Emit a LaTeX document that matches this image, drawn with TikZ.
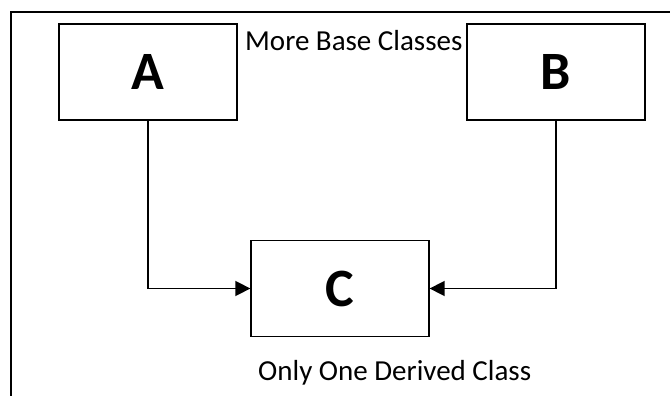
\documentclass[tikz,border=0pt]{standalone}
\usepackage{fontspec}
\setmainfont{Carlito}
\usetikzlibrary{arrows.meta}
\begin{document}
\begin{tikzpicture}[x=1pt,y=-1pt,
  classbox/.style={draw,line width=1.3pt,minimum width=178pt,minimum height=96pt,inner sep=0pt,font=\fontsize{54}{54}\selectfont\bfseries},
  lbl/.style={font=\fontsize{29}{29}\selectfont,inner sep=0pt,anchor=base west},
  conn/.style={line width=1.6pt,-{Triangle[length=15pt,width=15pt]}}]
\useasboundingbox (0,0) rectangle (670,396);
\draw[line width=2pt] (11,400) -- (11,12) -- (672,12);
\node[classbox] (A) at (148,72) {A};
\node[classbox] (B) at (556,72) {B};
\node[classbox] (C) at (340,288.5) {C};
\node[lbl] (t1) at (245,51) {More Base Classes};
\node[lbl] (t2) at (258,380) {Only One Derived Class};
\draw[conn] (A.south) |- (C.west);
\draw[conn] (B.south) |- (C.east);
\end{tikzpicture}
\end{document}
